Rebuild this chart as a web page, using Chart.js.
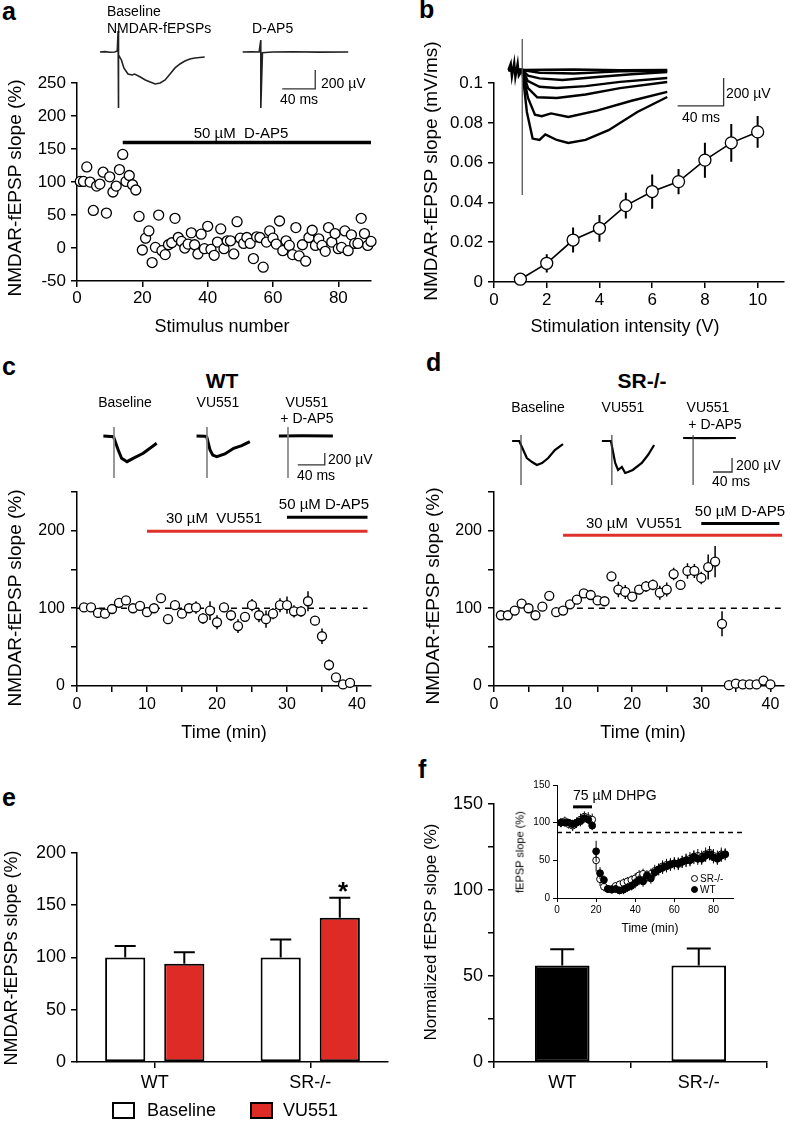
<!DOCTYPE html>
<html>
<head>
<meta charset="utf-8">
<script src="https://cdn.jsdelivr.net/npm/chart.js@4.4.0/dist/chart.umd.min.js"></script>
<style>
  body { margin: 0; background: #fff; }
  #page { position: relative; width: 790px; height: 1123px; overflow: hidden; background: #fff;
          font-family: 'Liberation Sans', Arial, sans-serif; color: #000; }
  #page canvas { position: absolute; }
  .t { position: absolute; white-space: pre; line-height: 1; }
  .box { position: absolute; border: 2px solid #000; box-sizing: border-box; }
  .dot { position: absolute; width: 7px; height: 7px; border-radius: 50%; border: 1px solid #000; box-sizing: border-box; }
</style>
</head>
<body>
<div id="page"></div>
<script>
// ---------- data ----------

// panel a: single experiment, slope per stimulus
const aStim = [1,2,3,4,5,6,7,8,9,10,11,12,13,14,15,16,17,18,19,20,21,22,23,24,25,26,27,28,29,30,
  31,32,33,34,35,36,37,38,39,40,41,42,43,44,45,46,47,48,49,50,51,52,53,54,55,56,57,58,59,60,
  61,62,63,64,65,66,67,68,69,70,71,72,73,74,75,76,77,78,79,80,81,82,83,84,85,86,87,88,89,90];
const aSlope = [101,101,123,100,57,94,97,115,53,108,
  85,94,119,142,101,110,96,88,48,-3,
  15,26,-22,1,50,-4,-10,5,8,45,
  16,10,0,6,23,5,-9,21,-1,33,
  -2,-11,9,29,-1,11,11,-9,40,15,
  7,16,7,-16,17,16,-29,9,26,15,
  6,41,-4,11,4,-10,31,-12,5,-20,
  16,27,4,14,4,-5,31,9,22,-1,
  1,26,-4,20,7,7,45,22,4,10];
const aDrug = { from: 14, to: 90, level: 160 };
const aXTicks = [0, 20, 40, 60, 80];
const aYTicks = [-50, 0, 50, 100, 150, 200, 250];

// panel b: input-output curve
const bVolts = [1, 2, 3, 4, 5, 6, 7, 8, 9, 10];
const bSlope = [0.0014, 0.0094, 0.0211, 0.027, 0.0384, 0.0455, 0.0505, 0.0613, 0.070, 0.0755];
const bErr = [0.0005, 0.0046, 0.0063, 0.0067, 0.0065, 0.0086, 0.0063, 0.0088, 0.0095, 0.008];
const bXTicks = [0, 2, 4, 6, 8, 10];
const bYTicks = [0, 0.02, 0.04, 0.06, 0.08, 0.1];

// panel c: WT time course
const cTime = [1,2,3,4,5,6,7,8,9,10,11,12,13,14,15,16,17,18,19,20,21,22,23,24,25,26,27,28,29,30,
  31,32,33,34,35,36,37,38,39];
const cSlope = [101,101,94,93,99,107,110,100,103,95,100,113,86,104,93,100,101,87,97,82,
  101,91,77,89,104,91,86,93,104,104,96,96,109,84,64,27,11,2,4];
const cErr = [3,3,4,4,4,6,5,4,4,4,5,4,4,6,5,6,8,7,12,9,6,7,9,6,8,9,11,7,9,11,8,7,13,6,10,7,4,3,3];
const cVuBar = { from: 10, to: 41.5, level: 199 };
const cApBar = { from: 30, to: 41.5, level: 217 };
const cRef = { from: 0, to: 41.5, level: 100 };

// panel d: SR-/- time course
const dTime = [1,2,3,4,5,6,7,8,9,10,11,12,13,14,15,16,17,18,19,20,21,22,23,24,25,26,27,28,29,30,
  31,32,33,34,35,36,37,38,39,40];
const dSlope = [91,91,97,106,100,91,102,116,95,97,105,111,119,117,110,109,141,124,121,115,
  124,128,130,120,124,144,130,148,148,139,153,160,80,1,3,2,2,2,7,2];
const dErr = [3,3,3,4,4,3,4,4,3,3,4,4,4,4,4,4,5,10,9,5,6,7,7,9,9,8,6,10,9,8,16,20,16,2,2,2,2,2,3,2];
const dVuBar = { from: 10, to: 41.7, level: 194 };
const dApBar = { from: 30, to: 41.3, level: 209 };
const dRef = { from: 12, to: 41.5, level: 100 };

const timeTicks = [0, 5, 10, 15, 20, 25, 30, 35, 40];
const pctTicks = [0, 50, 100, 150, 200, 250];

// panel e: summary bars
const eGroups = ['WT', 'SR-/-'];
const eBaseline = [100, 100];
const eBaselineErr = [11, 17];
const eVU551 = [94, 138];
const eVU551Err = [11, 19];
const eYTicks = [0, 50, 100, 150, 200];

// panel f: mGluR-LTD
const fGroups = ['WT', 'SR-/-'];
const fSlope = [56, 56];
const fErr = [9.5, 10];
const fYTicks = [0, 25, 50, 75, 100, 125, 150];

// panel f inset
const fiTime = [2,4,6,8,10,12,14,16,18,20,22,24,26,28,30,32,34,36,38,40,42,44,46,48,50,52,54,56,58,60,
  62,64,66,68,70,72,74,76,78,80,82,84,86];
const fiWT = [100,100,100,98,100,102,106,104,96,62,33,24,12,11,12,10,11,14,16,20,24,22,30,26,34,38,40,42,
  45,46,46,48,50,50,55,52,52,56,58,54,52,56,58];
const fiSR = [100,102,98,96,100,104,108,106,104,50,25,15,12,12,16,18,20,22,24,26,30,32,28,32,36,38,42,44,
  44,46,45,48,50,52,54,56,54,58,60,56,54,58,58];
const fiWTErr = [6,5,5,6,6,7,6,6,6,14,8,6,5,5,5,5,6,6,6,7,7,7,7,7,7,7,8,8,8,8,8,8,8,8,8,8,8,8,8,8,8,8,7];
const fiSRErr = [6,6,6,7,7,8,7,8,8,15,9,6,5,5,5,5,6,6,6,7,7,7,7,7,8,8,8,8,8,8,8,8,9,9,9,9,9,9,9,9,9,9,8];
const fiDrug = { from: 8.2, to: 17.9, level: 121 };
const fiRef = { from: 0, to: 95, level: 87 };

// example sweeps, [ms, µV]
const aBaseTrace = [[6,0],[12,4],[18,-3],[24,0],[27,10],[28,221],[28,-589],[29,-32],[32,-84],[35,-168],[40,-232],
  [45,-242],[48,-232],[55,-263],[61,-295],[67,-316],[73,-337],[79,-326],[85,-295],[91,-232],[97,-168],
  [103,-126],[109,-95],[115,-74],[121,-63],[133,-53]];
const aApTrace = [[179,0],[190,3],[199,0],[201,126],[201,-589],[203,-8],[215,0],[240,2],[270,-2],[307,0]];
const aScale = [[227,-389],[267,-389],[267,-189]];

const bTraces = [
  [[3,0],[5,45],[6,-45],[8,50],[9,-50],[11,45],[12,-40],[15,0],[60,4],[100,-2],[141,0]],
  [[3,0],[15,0],[30,-20],[60,-25],[100,-10],[141,-5]],
  [[3,0],[15,0],[20,-40],[30,-60],[50,-71],[80,-50],[110,-30],[141,-14]],
  [[3,0],[15,0],[20,-80],[30,-120],[45,-129],[70,-115],[100,-85],[141,-57]],
  [[3,0],[15,0],[20,-130],[28,-195],[45,-200],[70,-175],[100,-130],[141,-86]],
  [[3,0],[15,0],[20,-200],[26,-320],[32,-330],[40,-310],[55,-336],[80,-290],[110,-220],[141,-157]],
  [[3,0],[15,0],[19,-300],[24,-490],[30,-500],[35,-460],[45,-500],[55,-521],[70,-500],[90,-430],[115,-300],[141,-193]]
];
const bArtifact = [[15,221],[15,-893]];
const bScale = [[150,-257],[190,-257],[190,-57]];

const cBaseTrace = [[5,0],[20,-12],[27,-233],[32,-372],[40,-428],[49,-372],[64,-288],[84,-122]];
const cVuTrace = [[143,0],[155,-5],[158,-10],[163,-233],[167,-317],[173,-345],[185,-300],[198,-205],[210,-160],[222,-95]];
const cApTrace = [[265,0],[300,3],[345,0]];
const cArtifacts = [[[20.7,150],[20.7,-700]], [[158.5,150],[158.5,-700]], [[278.5,150],[278.5,-700]]];
const cScale = [[293,-483],[333,-483],[333,-283]];

const dBaseTrace = [[15,0],[30,0],[46,-243],[57,-300],[67,-343],[78,-314],[91,-243],[105,-129],[122,-43]];
const dVuTrace = [[204,0],[223,0],[232,-314],[238,-414],[246,-371],[253,-457],[259,-443],[269,-414],[288,-314],[301,-200],[314,-57]];
const dApTrace = [[375,43],[420,40],[486,43]];
const dArtifacts = [[[33.7,86],[33.7,-629]], [[225,86],[225,-629]], [[396,86],[396,-629]]];
const dScale = [[438,-443],[478,-443],[478,-243]];

// ---------- setup ----------
const RED = '#e0302a';
const FONT = "'Liberation Sans', Arial, sans-serif";
Chart.defaults.font.family = FONT;
Chart.defaults.color = '#000';
Chart.defaults.animation = false;
Chart.defaults.plugins.legend.display = false;
Chart.defaults.plugins.tooltip.enabled = false;

// vertical error bars drawn just before the dataset, so markers sit on top
const errorBars = {
  id: 'errorBars',
  beforeDatasetDraw(chart, args) {
    const ds = chart.data.datasets[args.index];
    if (!ds.errors) return;
    const meta = args.meta;
    const ys = chart.scales[meta.yAxisID];
    const ctx = chart.ctx;
    ctx.save();
    ctx.strokeStyle = '#000';
    ctx.lineWidth = ds.errWidth || 1.5;
    ctx.beginPath();
    meta.data.forEach((el, i) => {
      const e = ds.errors[i];
      if (!e) return;
      const raw = ds.data[i];
      const v = typeof raw === 'object' ? raw.y : raw;
      const top = ys.getPixelForValue(v + e);
      const bot = ys.getPixelForValue(ds.errUpOnly ? v : v - e);
      ctx.moveTo(el.x, top);
      ctx.lineTo(el.x, bot);
      if (ds.errCap) {
        ctx.moveTo(el.x - ds.errCap / 2, top);
        ctx.lineTo(el.x + ds.errCap / 2, top);
      }
    });
    ctx.stroke();
    ctx.restore();
  }
};
Chart.register(errorBars);

const page = document.getElementById('page');

function addText(txt, x, y, o = {}) {
  const d = document.createElement('div');
  d.className = 't';
  d.textContent = txt;
  d.style.fontSize = (o.size || 18) + 'px';
  if (o.bold) d.style.fontWeight = 'bold';
  d.style.left = x + 'px';
  d.style.top = y + 'px';
  let tr = o.left ? 'translate(0,-50%)' : 'translate(-50%,-50%)';
  if (o.rotate) tr += ' rotate(-90deg)';
  d.style.transform = tr;
  page.appendChild(d);
}

function makeCanvas(box) {
  const c = document.createElement('canvas');
  c.width = box.r - box.l;
  c.height = box.b - box.t;
  c.style.left = box.l + 'px';
  c.style.top = box.t + 'px';
  page.appendChild(c);
  return c;
}

const GUT = { l: 70, t: 15, r: 20, b: 45 };

// canvas whose chart area lands exactly on the given plot area
function plotChart(area, gut, config) {
  const canvas = makeCanvas({ l: area.l - gut.l, t: area.t - gut.t, r: area.r + gut.r, b: area.b + gut.b });
  config.options = config.options || {};
  config.options.responsive = false;
  config.options.layout = { padding: { left: 0, top: gut.t, right: gut.r, bottom: 0 } };
  config.options.scales.x.afterFit = s => { s.height = gut.b; };
  config.options.scales.y.afterFit = s => { s.width = gut.l; };
  return new Chart(canvas, config);
}

function linAxis(min, max, ticks, o = {}) {
  return {
    type: 'linear', min, max,
    afterBuildTicks: s => { s.ticks = ticks.map(v => ({ value: v })); },
    ticks: { font: { size: o.size || 17 }, padding: o.pad ?? 4, autoSkip: false, maxRotation: 0,
             callback: o.label || (v => v) },
    grid: { drawOnChartArea: false, color: '#000', lineWidth: o.lw || 1.5, tickLength: o.tick || 6 },
    border: { color: '#000', width: o.lw || 1.5 }
  };
}

function catAxis(o = {}) {
  return {
    type: 'category',
    ticks: { font: { size: o.size || 18 }, padding: o.pad ?? 4 },
    grid: { drawOnChartArea: false, color: '#000', lineWidth: 1.5, tickLength: 6, offset: o.offset },
    border: { color: '#000', width: 1.5 }
  };
}

const pts = (xs, ys) => xs.map((x, i) => ({ x, y: ys[i] }));
const hLine = (seg) => [{ x: seg.from, y: seg.level }, { x: seg.to, y: seg.level }];

function openPoints(xs, ys, errs, r) {
  return { data: pts(xs, ys), errors: errs, showLine: false, pointRadius: r, pointBorderWidth: 1.3,
           pointBackgroundColor: '#fff', pointBorderColor: '#000', clip: false, order: 0 };
}
function segLine(seg, color, width, dash) {
  return { data: hLine(seg), showLine: true, borderColor: color, borderWidth: width, borderDash: dash || [],
           pointRadius: 0, clip: false, order: 1 };
}

// sweep insets: axes hidden, canvas = data window in ms / µV
function traceChart(box, xMax, yMin, yMax, sets) {
  new Chart(makeCanvas(box), {
    type: 'scatter',
    data: { datasets: sets.map(s => ({
      data: s.pts.map(p => ({ x: p[0], y: p[1] })), showLine: true, borderColor: s.color || '#000',
      borderWidth: s.w || 2, pointRadius: 0, clip: false })) },
    options: { responsive: false, layout: { padding: 0 },
      scales: { x: { type: 'linear', display: false, min: 0, max: xMax },
                y: { display: false, min: yMin, max: yMax } } }
  });
}

// ---------- panel a ----------
plotChart({ l: 77, t: 83, r: 371, b: 281 }, GUT, {
  type: 'scatter',
  data: { datasets: [
    openPoints(aStim, aSlope, null, 5),
    segLine(aDrug, '#000', 3.5)
  ] },
  options: { scales: {
    x: linAxis(0, 90, aXTicks, { pad: 1 }),
    y: linAxis(-50, 250, aYTicks, { pad: 5 })
  } }
});
traceChart({ l: 95, t: 25, r: 355, b: 112 }, 315.2, -632, 284, [
  { pts: aBaseTrace, w: 1.6, color: '#222' },
  { pts: aApTrace, w: 1.6, color: '#222' },
  { pts: aScale, w: 1.3, color: '#333' }
]);

// ---------- panel b ----------
plotChart({ l: 494, t: 83, r: 784, b: 282 }, GUT, {
  type: 'scatter',
  data: { datasets: [
    { data: pts(bVolts, bSlope), errors: bErr, errWidth: 2, showLine: true, borderColor: '#000', borderWidth: 1.6,
      pointRadius: 6, pointBorderWidth: 1.3, pointBackgroundColor: '#fff', pointBorderColor: '#000', clip: false }
  ] },
  options: { scales: {
    x: linAxis(0, 11, bXTicks, { pad: 2 }),
    y: linAxis(0, 0.1, bYTicks, { pad: 5 })
  } }
});
traceChart({ l: 505, t: 35, r: 780, b: 200 }, 239, -929, 250, [
  { pts: bArtifact, w: 1.3, color: '#555' },
  ...bTraces.map(t => ({ pts: t, w: 2.4 })),
  { pts: bScale, w: 1.3, color: '#333' }
]);

// ---------- panel c ----------
const pctLabel = v => (v % 100 === 0 ? v : '');
const timeLabel = v => (v % 10 === 0 ? v : '');
plotChart({ l: 77, t: 491, r: 371, b: 686 }, GUT, {
  type: 'scatter',
  data: { datasets: [
    openPoints(cTime, cSlope, cErr, 4.5),
    segLine(cRef, '#000', 1.5, [6, 5]),
    segLine(cVuBar, RED, 3),
    segLine(cApBar, '#000', 3)
  ] },
  options: { scales: {
    x: linAxis(0, 42, timeTicks, { pad: 3, size: 16, label: timeLabel }),
    y: linAxis(0, 250, pctTicks, { pad: 6, size: 16, label: pctLabel })
  } }
});
traceChart({ l: 100, t: 420, r: 380, b: 485 }, 414.8, -817, 267, [
  ...cArtifacts.map(a => ({ pts: a, w: 1, color: '#888' })),
  { pts: cBaseTrace, w: 3 }, { pts: cVuTrace, w: 3 }, { pts: cApTrace, w: 3 },
  { pts: cScale, w: 1.3, color: '#333' }
]);

// ---------- panel d ----------
plotChart({ l: 494, t: 491, r: 788, b: 686 }, { l: 70, t: 15, r: 2, b: 45 }, {
  type: 'scatter',
  data: { datasets: [
    openPoints(dTime, dSlope, dErr, 4.5),
    segLine(dRef, '#000', 1.5, [6, 5]),
    segLine(dVuBar, RED, 3),
    segLine(dApBar, '#000', 3)
  ] },
  options: { scales: {
    x: linAxis(0, 42, timeTicks, { pad: 3, size: 16, label: timeLabel }),
    y: linAxis(0, 250, pctTicks, { pad: 6, size: 16, label: pctLabel })
  } }
});
traceChart({ l: 505, t: 425, r: 790, b: 490 }, 600, -700, 229, [
  ...dArtifacts.map(a => ({ pts: a, w: 1.2, color: '#444' })),
  { pts: dBaseTrace, w: 2.2 }, { pts: dVuTrace, w: 2.2 }, { pts: dApTrace, w: 2.2 },
  { pts: dScale, w: 1.3, color: '#333' }
]);

// ---------- panel e ----------
plotChart({ l: 77, t: 852, r: 388, b: 1062 }, GUT, {
  type: 'bar',
  data: { labels: eGroups, datasets: [
    { data: eBaseline, errors: eBaselineErr, errUpOnly: true, errCap: 21, errWidth: 2,
      backgroundColor: '#fff', borderColor: '#000', borderWidth: 2, borderSkipped: false },
    { data: eVU551, errors: eVU551Err, errUpOnly: true, errCap: 21, errWidth: 2,
      backgroundColor: '#de2b25', borderColor: '#000', borderWidth: 2, borderSkipped: false }
  ] },
  options: {
    datasets: { bar: { categoryPercentage: 0.76, barPercentage: 0.68 } },
    scales: {
      x: catAxis({ offset: false, pad: 4 }),
      y: linAxis(0, 200, eYTicks, { size: 18, pad: 5 })
    }
  }
});

// ---------- panel f ----------
plotChart({ l: 494, t: 803, r: 767, b: 1062 }, GUT, {
  type: 'bar',
  data: { labels: fGroups, datasets: [
    { data: fSlope, errors: fErr, errUpOnly: true, errCap: 24, errWidth: 2,
      backgroundColor: ['#000', '#fff'], borderColor: '#000', borderWidth: 2, borderSkipped: false }
  ] },
  options: {
    datasets: { bar: { categoryPercentage: 0.8, barPercentage: 0.5 } },
    scales: {
      x: catAxis({ offset: true, pad: 4 }),
      y: linAxis(0, 150, fYTicks, { size: 18, pad: 5, label: v => (v % 50 === 0 ? v : '') })
    }
  }
});

// inset
plotChart({ l: 557, t: 784, r: 733, b: 898 }, { l: 45, t: 8, r: 55, b: 24 }, {
  type: 'scatter',
  data: { datasets: [
    { data: pts(fiTime, fiWT), errors: fiWTErr, errWidth: 1, showLine: false, pointRadius: 3.4,
      pointBackgroundColor: '#000', pointBorderColor: '#000', pointBorderWidth: 1, clip: false, order: 0 },
    { data: pts(fiTime, fiSR), errors: fiSRErr, errWidth: 1, showLine: false, pointRadius: 3.4,
      pointBackgroundColor: '#fff', pointBorderColor: '#000', pointBorderWidth: 1, clip: false, order: 1 },
    { ...segLine(fiDrug, '#000', 3), order: 2 },
    { ...segLine(fiRef, '#000', 1.5, [5, 4]), order: 3 }
  ] },
  options: { scales: {
    x: linAxis(0, 90, [0, 20, 40, 60, 80], { size: 10, pad: 2, lw: 1, tick: 4 }),
    y: linAxis(0, 150, [0, 50, 100, 150], { size: 10, pad: 3, lw: 1, tick: 4 })
  } }
});

// ---------- text ----------
// panel letters
addText('a', 2, 11, { left: true, bold: true, size: 25 });
addText('b', 419, 9, { left: true, bold: true, size: 25 });
addText('c', 2, 366, { left: true, bold: true, size: 25 });
addText('d', 426, 362, { left: true, bold: true, size: 25 });
addText('e', 2, 797, { left: true, bold: true, size: 25 });
addText('f', 418, 769, { left: true, bold: true, size: 25 });

// a
addText('Baseline', 107, 11, { left: true, size: 14 });
addText('NMDAR-fEPSPs', 107, 28, { left: true, size: 14 });
addText('D-AP5', 252, 28, { left: true, size: 14 });
addText('200 µV', 321, 83, { left: true, size: 14 });
addText('40 ms', 280, 99, { left: true, size: 14 });
addText('50 µM  D-AP5', 241, 132, { size: 15 });
addText('NMDAR-fEPSP slope (%)', 14, 188, { rotate: true, size: 19 });
addText('Stimulus number', 222, 326, { size: 18 });

// b
addText('200 µV', 726, 93, { left: true, size: 14 });
addText('40 ms', 682, 117, { left: true, size: 14 });
addText('NMDAR-fEPSP slope (mV/ms)', 430, 171, { rotate: true, size: 19 });
addText('Stimulation intensity (V)', 625, 326, { size: 18 });

// c
addText('WT', 222, 380, { bold: true, size: 21 });
addText('Baseline', 125, 402, { size: 14 });
addText('VU551', 218, 402, { size: 14 });
addText('VU551', 307, 402, { size: 14 });
addText('+ D-AP5', 307, 418, { size: 14 });
addText('200 µV', 328, 459, { left: true, size: 14 });
addText('40 ms', 297, 475, { left: true, size: 14 });
addText('30 µM  VU551', 214, 517, { size: 15 });
addText('50 µM D-AP5', 324, 503, { size: 15 });
addText('NMDAR-fEPSP slope (%)', 14, 598, { rotate: true, size: 19 });
addText('Time (min)', 224, 732, { size: 18 });

// d
addText('SR-/-', 642, 380, { bold: true, size: 21 });
addText('Baseline', 538, 407, { size: 14 });
addText('VU551', 623, 407, { size: 14 });
addText('VU551', 708, 407, { size: 14 });
addText('+ D-AP5', 715, 424, { size: 14 });
addText('200 µV', 736, 465, { left: true, size: 14 });
addText('40 ms', 712, 481, { left: true, size: 14 });
addText('30 µM  VU551', 634, 522, { size: 15 });
addText('50 µM D-AP5', 740, 510, { size: 15 });
addText('NMDAR-fEPSP slope (%)', 432, 596, { rotate: true, size: 19 });
addText('Time (min)', 643, 732, { size: 18 });

// e
addText('NMDAR-fEPSPs slope (%)', 11, 958, { rotate: true, size: 18 });
addText('*', 343, 891, { bold: true, size: 26 });
function legendBox(x, y, color) {
  const b = document.createElement('div');
  b.className = 'box';
  Object.assign(b.style, { left: x + 'px', top: y + 'px', width: '23px', height: '17px', background: color });
  page.appendChild(b);
}
legendBox(112, 1102, '#fff');
addText('Baseline', 147, 1110, { left: true, size: 18 });
legendBox(250, 1102, '#de2b25');
addText('VU551', 283, 1110, { left: true, size: 18 });

// f
addText('Normalized fEPSP slope (%)', 430, 932, { rotate: true, size: 17 });
addText('75 µM DHPG', 573, 795, { left: true, size: 14 });
addText('fEPSP slope (%)', 520, 852, { rotate: true, size: 11 });
addText('Time (min)', 650, 928, { size: 12 });
function legendDot(x, y, color) {
  const d = document.createElement('div');
  d.className = 'dot';
  Object.assign(d.style, { left: x + 'px', top: y + 'px', background: color });
  page.appendChild(d);
}
legendDot(691, 875, '#fff');
addText('SR-/-', 700, 879, { left: true, size: 10 });
legendDot(691, 886, '#000');
addText('WT', 700, 890, { left: true, size: 10 });
</script>
</body>
</html>
